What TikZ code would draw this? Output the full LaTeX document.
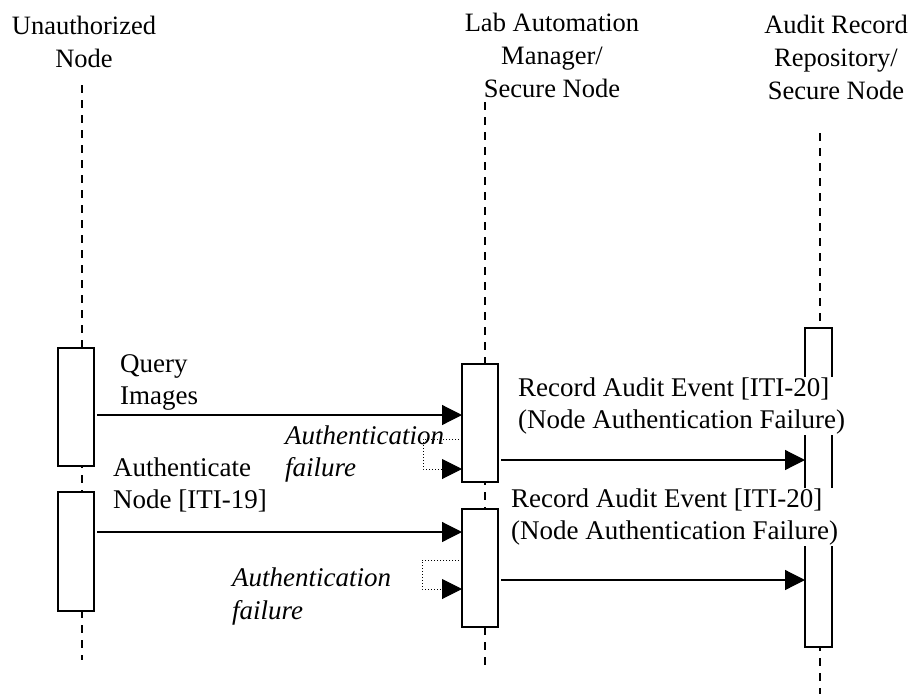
\documentclass[tikz,border=0pt]{standalone}
\usepackage{fontspec}
\setmainfont{Liberation Serif}
\usetikzlibrary{arrows.meta}

\begin{document}
\begin{tikzpicture}[x=1pt,y=-1pt,>={Triangle[length=20pt,width=20pt]},
	actbox/.style={draw,fill=white,rectangle,line width=1.2pt,inner sep=0pt,outer sep=0pt},
	lifeline/.style={line width=1.2pt,dash pattern=on 8pt off 7pt},
	msg/.style={->,line width=1.2pt,shorten <=3pt},
	selfmsg/.style={->,dotted,line width=1pt},
	lbl/.style={inner sep=0pt,align=left,anchor=west,font=\fontsize{27}{32}\selectfont},
	head/.style={inner sep=0pt,align=center,font=\fontsize{26.5}{33}\selectfont}]
	\useasboundingbox (0,0) rectangle (911,694);
	
	% fejlecek
	\node[head] (unauth) at (84,42) {Unauthorized\\Node};
	\node[head] (labman) at (552,55) {Lab Automation\\Manager/\\Secure Node};
	\node[head] (audrep) at (836,57) {Audit Record\\Repository/\\Secure Node};
	
	% eletvonalak
	\coordinate (l1a) at (82,85);  \coordinate (l1b) at (82,660);
	\coordinate (l2a) at (485,102); \coordinate (l2b) at (485,668);
	\coordinate (l3a) at (820,133); \coordinate (l3b) at (820,694);
	\draw[lifeline] (l1a) -- (l1b);
	\draw[lifeline] (l2a) -- (l2b);
	\draw[lifeline] (l3a) -- (l3b);
	
	% aktivacios dobozok
	\node[actbox,minimum width=36pt,minimum height=118pt] (ua1) at (76,407) {};
	\node[actbox,minimum width=36pt,minimum height=119pt] (ua2) at (76,551.5) {};
	\node[actbox,minimum width=36pt,minimum height=118pt] (lam1) at (480,423) {};
	\node[actbox,minimum width=36pt,minimum height=118pt] (lam2) at (480,568) {};
	\node[actbox,minimum width=27pt,minimum height=319pt] (arr) at (818.5,487.5) {};
	
	% uzenetek sorai
	\coordinate (r1) at (0,415);
	\coordinate (r2) at (0,460);
	\coordinate (r3) at (0,532);
	\coordinate (r4) at (0,580);
	\coordinate (s1) at (423,439); \coordinate (s1b) at (423,469);
	\coordinate (s2) at (422,560); \coordinate (s2b) at (422,589);
	
	% elso kor
	\draw[msg] (ua1.east |- r1) -- (lam1.west |- r1);
	\draw[selfmsg] (lam1.west |- s1) -- (s1) -- (s1b) -- (lam1.west |- s1b);
	\draw[msg] (lam1.east |- r2) -- (arr.west |- r2);
	
	% masodik kor
	\draw[msg] (ua2.east |- r3) -- (lam2.west |- r3);
	\draw[selfmsg] (lam2.west |- s2) -- (s2) -- (s2b) -- (lam2.west |- s2b);
	\draw[msg] (lam2.east |- r4) -- (arr.west |- r4);
	
	% feliratok
	\node[lbl] (query) at (120,382) {Query\\Images};
	\node[lbl,font=\fontsize{27}{32}\selectfont\itshape] (fail1) at (285,454) {Authentication\\failure};
	\node[lbl] (authn) at (113,485) {Authenticate\\Node [ITI-19]};
	\node[lbl,font=\fontsize{27}{33}\selectfont\itshape] (fail2) at (232,596) {Authentication\\failure};
	\node[lbl,fill=white,inner sep=1pt] (rec1) at (517,406) {Record Audit Event [ITI-20]\\(Node Authentication Failure)};
	\node[lbl,fill=white,inner sep=1pt] (rec2) at (510,517) {Record Audit Event [ITI-20]\\(Node Authentication Failure)};
\end{tikzpicture}
\end{document}
